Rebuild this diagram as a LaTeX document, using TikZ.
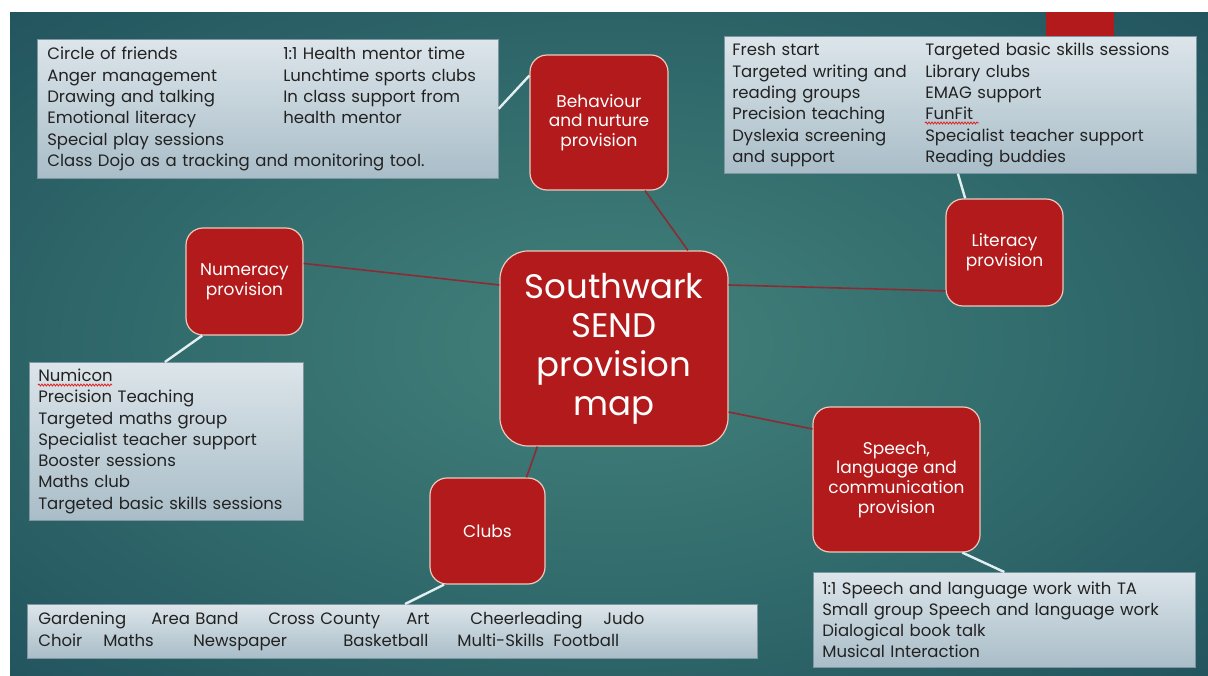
\documentclass[tikz,border=0pt]{standalone}
\usepackage{fontspec}
\setmainfont{Poppins}
\usetikzlibrary{decorations.pathmorphing}
\definecolor{nodered}{HTML}{B21A1B}
\definecolor{nodeline}{HTML}{EBCABD}
\definecolor{linkred}{HTML}{8C2B33}
\definecolor{linkwhite}{HTML}{E2EEF0}
\definecolor{boxtop}{HTML}{DCE5EA}
\definecolor{boxbot}{HTML}{A9BDC8}
\definecolor{boxline}{HTML}{7F96A2}
\definecolor{textdark}{HTML}{222222}
\definecolor{spellred}{HTML}{E02020}
\definecolor{bgin}{HTML}{43817A}
\definecolor{bgmid}{HTML}{326C6D}
\definecolor{bgout}{HTML}{1A4856}
\definecolor{bgcorner}{HTML}{10323F}
\pgfdeclareradialshading{bgshade}{\pgfpoint{0bp}{0bp}}{color(0bp)=(bgin); color(18bp)=(bgmid); color(45bp)=(bgout); color(72bp)=(bgcorner)}
\tikzstyle{prov}=[draw=nodeline, line width=1.2pt, fill=nodered, rounded corners=17pt, text=white, align=center, font=\fontsize{17}{19.7}\selectfont]
\tikzstyle{hub}=[prov, rounded corners=28pt, font=\fontsize{34}{39}\selectfont]
\tikzstyle{listbox}=[draw=boxline, line width=.6pt, top color=boxtop, bottom color=boxbot, text=textdark, anchor=north west, align=left, inner ysep=0pt, font=\fontsize{16.5}{21.3}\selectfont]
\tikzstyle{redlink}=[draw=linkred, line width=1.6pt]
\tikzstyle{whitelink}=[draw=linkwhite, line width=2.4pt]
\tikzstyle{spellmark}=[draw=spellred, line width=.8pt, decorate, decoration={snake, amplitude=1pt, segment length=3pt}]
\newcommand{\clubitem}[2]{\makebox[#1pt][l]{#2}}

\begin{document}
\begin{tikzpicture}[x=1pt, y=-1pt]
      \useasboundingbox (0,0) rectangle (1208,675);
      \fill[white] (0,0) rectangle (1208,675);
      \shade[shading=bgshade] (10,12) rectangle (1208,675);
      \fill[nodered] (1046,12) rectangle (1114,40);

      % lists
      \node[listbox, inner xsep=10pt, text width=441pt, minimum height=139pt] (behbox) at (37,39) {%
        \begin{tabular}{@{}p{236pt}@{}l@{}}
        Circle of friends & 1:1 Health mentor time\\
        Anger management & Lunchtime sports clubs\\
        Drawing and talking & In class support from\\
        Emotional literacy & health mentor\\
        Special play sessions & \\
        \multicolumn{2}{@{}l@{}}{Class Dojo as a tracking and monitoring tool.}
        \end{tabular}};
      \node[listbox, inner xsep=8pt, text width=456pt, minimum height=137pt] (litbox) at (724,36) {%
        \begin{tabular}{@{}p{193pt}@{}l@{}}
        Fresh start & Targeted basic skills sessions\\
        Targeted writing and & Library clubs\\
        reading groups & EMAG support\\
        Precision teaching & FunFit\\
        Dyslexia screening & Specialist teacher support\\
        and support & Reading buddies
        \end{tabular}};
      \node[listbox, inner xsep=9pt, text width=256pt, minimum height=158pt] (numbox) at (29,362) {%
        Numicon\\
        Precision Teaching\\
        Targeted maths group\\
        Specialist teacher support\\
        Booster sessions\\
        Maths club\\
        Targeted basic skills sessions};
      \node[listbox, inner xsep=9pt, text width=364pt, minimum height=95pt] (slcbox) at (813,572) {%
        1:1 Speech and language work with TA\\
        Small group Speech and language work\\
        Dialogical book talk\\
        Musical Interaction};
      \node[listbox, inner xsep=11pt, text width=708pt, minimum height=54pt] (clubbox) at (27,604) {%
        \clubitem{113}{Gardening}\clubitem{117}{Area Band}\clubitem{138}{Cross County}\clubitem{64}{Art}\clubitem{133}{Cheerleading}Judo\\
        \clubitem{65}{Choir}\clubitem{90}{Maths}\clubitem{150}{Newspaper}\clubitem{114}{Basketball}\clubitem{96}{Multi-Skills}Football};

      % spelling marks
      \draw[spellmark] (38,385) -- (112,385);
      \draw[spellmark] (925,123) -- (979,123);

      % provision nodes
      \node[hub, minimum width=228pt, minimum height=195pt] (hub) at (614,348.5) {Southwark\\SEND\\provision\\map};
      \node[prov, minimum width=138pt, minimum height=135pt] (beh) at (599,122.5) {Behaviour\\and nurture\\provision};
      \node[prov, minimum width=117pt, minimum height=107pt] (lit) at (1004.5,252.5) {Literacy\\provision};
      \node[prov, minimum width=117pt, minimum height=107pt] (num) at (244.5,281.5) {Numeracy\\provision};
      \node[prov, minimum width=167pt, minimum height=145pt] (slc) at (896.5,479.5) {Speech,\\language and\\communication\\provision};
      \node[prov, minimum width=115pt, minimum height=106pt] (clubs) at (487.5,531) {Clubs};

      \draw[redlink] (hub.53) -- (beh.-56);
      \draw[redlink] (hub.29) -- (lit.213);
      \draw[redlink] (hub.151) -- (num.17.5);
      \draw[redlink] (hub.-29) -- (slc.149.3);
      \draw[redlink] (hub.-128) -- (clubs.54.7);

      \draw[whitelink] (beh.146.6) -- (behbox.east);
      \draw[whitelink] (lit.126.4) -- (litbox.-92.5);
      \draw[whitelink] (num.232.2) -- (numbox.91.5);
      \draw[whitelink] (slc.-48.8) -- (slcbox.north);
      \draw[whitelink] (clubs.231.3) -- (clubbox.65);
    \end{tikzpicture}
\end{document}
